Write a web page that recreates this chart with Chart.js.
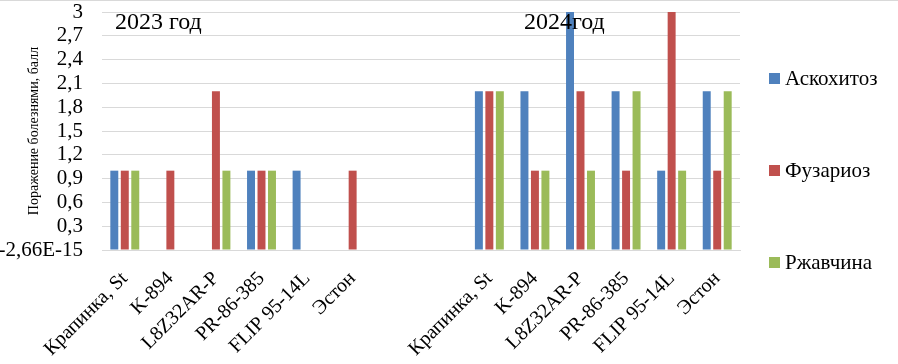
<!DOCTYPE html>
<html>
<head>
<meta charset="utf-8">
<script src="https://cdn.jsdelivr.net/npm/chart.js@4/dist/chart.umd.min.js"></script>
<style>
  html, body { margin: 0; padding: 0; background: #fff; }
  #wrap { position: relative; width: 898px; height: 364px; box-sizing: border-box; border-top: 1px solid #d9d9d9; }
</style>
</head>
<body>
<div id="wrap"><canvas id="myChart"></canvas></div>
<script>
var categories = ['Крапинка, St', 'K-894', 'L8Z32AR-P', 'PR-86-385', 'FLIP 95-14L', 'Эстон', '', '',
                  'Крапинка, St', 'K-894', 'L8Z32AR-P', 'PR-86-385', 'FLIP 95-14L', 'Эстон'];
var seriesNames = ['Аскохитоз', 'Фузариоз', 'Ржавчина'];
var ascochyta = [1, null, null, 1, 1, null, null, null, 2, 2, 3, 2, 1, 2];
var fusarium  = [1, 1, 2, 1, null, 1, null, null, 2, 1, 2, 1, 3, 1];
var rust      = [1, null, 1, 1, null, null, null, null, 2, 1, 1, 2, 1, 2];
var yearLabels = ['2023 год', '2024год'];
var colors = ['#4F81BD', '#C0504D', '#9BBB59'];

document.addEventListener('DOMContentLoaded', function(){
    var serif = "'Liberation Serif', 'DejaVu Serif', serif";

    var data = {
        labels: categories,
        datasets: [ascochyta, fusarium, rust].map(function(vals, i){
            return {
                label: seriesNames[i],
                data: vals,
                backgroundColor: colors[i],
                barPercentage: 0.76,
                categoryPercentage: 0.69
            };
        })
    };

    // year captions and the legend on the right
    var extras = {
        id: 'extras',
        afterDraw: function(chart){
            var ctx = chart.ctx;
            ctx.save();
            ctx.fillStyle = '#000';
            ctx.font = '24px ' + serif;
            ctx.textBaseline = 'alphabetic';
            ctx.textAlign = 'left';
            ctx.fillText(yearLabels[0], 115, 28);
            ctx.fillText(yearLabels[1], 524, 28);

            ctx.font = '21px ' + serif;
            ctx.textBaseline = 'middle';
            var ys = [77, 169, 261];
            seriesNames.forEach(function(name, i){
                ctx.fillStyle = colors[i];
                ctx.fillRect(769, ys[i] - 5, 11, 11);
                ctx.fillStyle = '#000';
                ctx.fillText(name, 785, ys[i] + 1);
            });
            ctx.restore();
        }
    };

    var options = {
        responsive: false,
        animation: false,
        layout: { padding: { top: 11, right: 158, left: 0, bottom: 0 } },
        plugins: {
            legend: { display: false },
            tooltip: { enabled: false }
        },
        scales: {
            x: {
                grid: { display: false },
                border: { color: '#d9d9d9' },
                ticks: {
                    autoSkip: false,
                    maxRotation: 45,
                    minRotation: 45,
                    color: '#000',
                    padding: 9,
                    font: { family: serif, size: 20 }
                },
                afterFit: function(scale){ scale.height = 114; }
            },
            y: {
                min: 0,
                max: 3,
                grid: { color: '#d9d9d9', drawTicks: false },
                border: { display: false },
                ticks: {
                    stepSize: 0.3,
                    autoSkip: false,
                    color: '#000',
                    padding: 19,
                    font: { family: serif, size: 21 },
                    callback: function(v){
                        if (Math.abs(v) < 1e-9) return '-2,66E-15';
                        return String(Math.round(v * 10) / 10).replace('.', ',');
                    }
                },
                title: {
                    display: true,
                    text: 'Поражение болезнями, балл',
                    color: '#000',
                    padding: { top: 26, bottom: 0 },
                    font: { family: serif, size: 14 }
                },
                afterFit: function(scale){
                    scale.width = 102;
                    scale.paddingTop = 0;
                    scale.paddingBottom = 0;
                }
            }
        }
    };

    var canvas = document.getElementById('myChart');
    canvas.width = 898;
    canvas.height = 363;
    new Chart(canvas.getContext('2d'), {
        type: 'bar',
        data: data,
        options: options,
        plugins: [extras]
    });
});
</script>
</body>
</html>
